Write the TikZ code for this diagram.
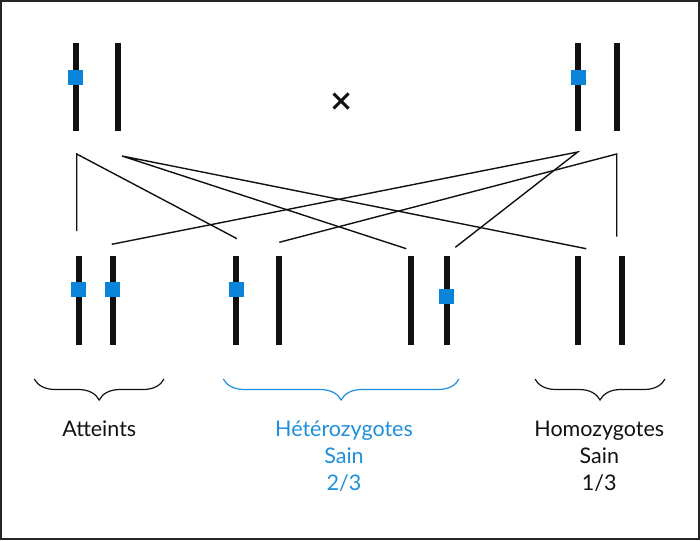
\documentclass[tikz,border=0pt]{standalone}
\usepackage{fontspec}
\setmainfont{Lato}
\usetikzlibrary{decorations.pathreplacing}
\definecolor{geneblue}{HTML}{0A84D8}
\definecolor{txtblue}{HTML}{1E8FDC}
\definecolor{chromcol}{HTML}{111111}
\tikzset{
  chromtop/.style={rectangle, fill=chromcol, inner sep=0pt, minimum width=6pt, minimum height=88pt},
  chrombot/.style={rectangle, fill=chromcol, inner sep=0pt, minimum width=6pt, minimum height=89pt},
  gene/.style={rectangle, fill=geneblue, inner sep=0pt, minimum size=15pt},
  link/.style={line width=1.4pt, chromcol},
  bracedeco/.style={decorate, decoration={brace, mirror, amplitude=21pt}, line width=1.2pt},
  lbl/.style={anchor=base, inner sep=0pt, font=\fontsize{21.5}{24}\selectfont},
}
\begin{document}
\begin{tikzpicture}[x=1pt,y=-1pt]
\useasboundingbox (0,0) rectangle (700,540);
\draw[line width=2pt, black!85] (1,1) rectangle (699,539);
% parents
\node[chromtop] (pa1) at (75.7,87) {};
\node[chromtop] (pa2) at (118,87) {};
\node[gene] (ga) at (75.7,77.5) {};
\node[chromtop] (pb1) at (578.3,87) {};
\node[chromtop] (pb2) at (616.7,87) {};
\node[gene] (gb) at (578.3,77.5) {};
\node (cross) at (341,101) {};
\draw[line width=3pt, chromcol] (333.5,93.5) -- (348.5,108.5) (348.5,93.5) -- (333.5,108.5);
% children
\node[chrombot] (c1) at (78.7,300.5) {};
\node[chrombot] (c2) at (112.7,300.5) {};
\node[gene] (g1) at (78.7,289.5) {};
\node[gene] (g2) at (112.7,289.5) {};
\node[chrombot] (c3) at (236.3,300.5) {};
\node[chrombot] (c4) at (278.7,300.5) {};
\node[gene] (g3) at (236.3,289.5) {};
\node[chrombot] (c5) at (411.3,300.5) {};
\node[chrombot] (c6) at (446.7,300.5) {};
\node[gene] (g6) at (446.7,296.5) {};
\node[chrombot] (c7) at (578.3,300.5) {};
\node[chrombot] (c8) at (621.7,300.5) {};
% connector end points
\coordinate (tl1) at (76.7,154);
\coordinate (tl2) at (122,156);
\coordinate (tr1) at (577.7,152);
\coordinate (tr2) at (616.7,154);
\coordinate (b1) at (76.7,231);
\coordinate (b2) at (111.7,244.3);
\coordinate (b3) at (237,238.7);
\coordinate (b4) at (279.3,242.3);
\coordinate (b5) at (406.3,248.7);
\coordinate (b6) at (455.3,247.3);
\coordinate (b7) at (586.3,248.7);
\coordinate (b8) at (616.7,236.7);
\draw[link] (b1) -- (tl1) -- (b3);
\draw[link] (b5) -- (tl2) -- (b7);
\draw[link] (b2) -- (tr1) -- (b6);
\draw[link] (b4) -- (tr2) -- (b8);
% braces
\draw[bracedeco, chromcol] (34.3,379) -- (164,379);
\draw[bracedeco, txtblue] (223.3,379) -- (459,379);
\draw[bracedeco, chromcol] (535,379) -- (665,379);
% labels
\node[lbl, chromcol] (t1) at (99.3,436) {Atteints};
\node[lbl, txtblue] (t2) at (344,436) {Hétérozygotes};
\node[lbl, txtblue] (t3) at (344,463) {Sain};
\node[lbl, txtblue] (t4) at (344,490) {2/3};
\node[lbl, chromcol] (t5) at (599.3,436) {Homozygotes};
\node[lbl, chromcol] (t6) at (599.3,463) {Sain};
\node[lbl, chromcol] (t7) at (599.3,490) {1/3};
\end{tikzpicture}
\end{document}
